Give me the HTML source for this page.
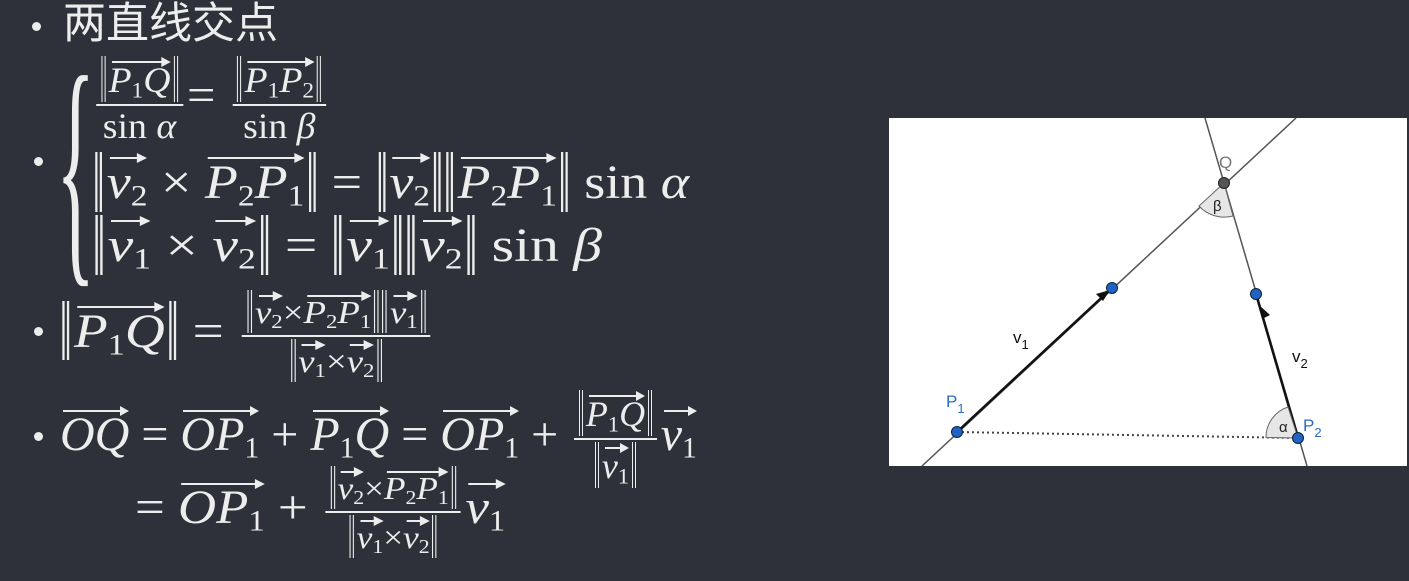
<!DOCTYPE html>
<html><head><meta charset="utf-8">
<style>
html,body{margin:0;padding:0;}
body{width:1409px;height:581px;background:#2e3139;position:relative;overflow:hidden;font-family:"Liberation Serif","Noto Serif CJK SC",serif;color:#ededed;}
.a{position:absolute;white-space:nowrap;line-height:1;transform-origin:left top;}
.bul{position:absolute;width:9px;height:9px;border-radius:50%;background:#ededed;}
.m{font-size:48px;}
.m i{font-style:italic;}
sub{font-size:0.62em;vertical-align:-0.25em;font-style:normal;}
.vec{position:relative;display:inline-block;padding-top:6px;}
.vec::before{content:"";position:absolute;left:3px;right:3px;top:5px;border-top:2px solid #ededed;}
.vec::after{content:"";position:absolute;right:0;top:1px;border-left:9px solid #ededed;border-top:5px solid transparent;border-bottom:5px solid transparent;}
.nm{display:inline-block;border-left:0.13em double #ededed;border-right:0.13em double #ededed;padding:0 0.08em;margin:0 0.05em;line-height:1.05;}
.frac{display:inline-flex;flex-direction:column;align-items:center;vertical-align:middle;margin:0 4px;}
.frac>.n{border-bottom:2px solid #ededed;padding:0 3px 2px;}
.frac>.d{padding-top:2px;}
.s{font-size:36px;}
.xs{font-size:32px;}
</style></head>
<body>
<div class="bul" style="left:32px;top:22px"></div>
<div class="a" style="left:63px;top:3px;font-family:'Liberation Sans','Noto Sans CJK SC',sans-serif;font-size:43px">两直线交点</div>

<div class="bul" style="left:34px;top:157px"></div>
<div class="a" style="left:56px;top:40px;font-size:255px;transform:scaleX(0.32);font-weight:100;">{</div>

<div class="a m" style="left:92px;top:56px;transform:scaleX(1.05)">
<span class="frac s"><span class="n"><span class="nm"><span class="vec"><i>P</i><sub>1</sub><i>Q</i></span></span></span><span class="d">sin <i>α</i></span></span>= <span class="frac s"><span class="n"><span class="nm"><span class="vec"><i>P</i><sub>1</sub><i>P</i><sub>2</sub></span></span></span><span class="d">sin <i>β</i></span></span>
</div>

<div class="a m" style="left:93px;top:152px;transform:scaleX(1.125)"><span class="nm"><span class="vec"><i>v</i><sub>2</sub></span> × <span class="vec"><i>P</i><sub>2</sub><i>P</i><sub>1</sub></span></span> = <span class="nm"><span class="vec"><i>v</i><sub>2</sub></span></span><span class="nm"><span class="vec"><i>P</i><sub>2</sub><i>P</i><sub>1</sub></span></span> sin <i>α</i></div>

<div class="a m" style="left:93px;top:215px;transform:scaleX(1.2)"><span class="nm"><span class="vec"><i>v</i><sub>1</sub></span> × <span class="vec"><i>v</i><sub>2</sub></span></span> = <span class="nm"><span class="vec"><i>v</i><sub>1</sub></span></span><span class="nm"><span class="vec"><i>v</i><sub>2</sub></span></span> sin <i>β</i></div>

<div class="bul" style="left:34px;top:327px"></div>
<div class="a m" style="left:60px;top:290px;transform:scaleX(1.15)"><span class="nm"><span class="vec"><i>P</i><sub>1</sub><i>Q</i></span></span> = <span class="frac xs"><span class="n"><span class="nm"><span class="vec"><i>v</i><sub>2</sub></span>×<span class="vec"><i>P</i><sub>2</sub><i>P</i><sub>1</sub></span></span><span class="nm"><span class="vec"><i>v</i><sub>1</sub></span></span></span><span class="d"><span class="nm"><span class="vec"><i>v</i><sub>1</sub></span>×<span class="vec"><i>v</i><sub>2</sub></span></span></span></span></div>

<div class="bul" style="left:34px;top:432px"></div>
<div class="a m" style="left:60px;top:390px"><span class="vec"><i>OQ</i></span> = <span class="vec"><i>OP</i><sub>1</sub></span> + <span class="vec"><i>P</i><sub>1</sub><i>Q</i></span> = <span class="vec"><i>OP</i><sub>1</sub></span> + <span class="frac s"><span class="n"><span class="nm"><span class="vec"><i>P</i><sub>1</sub><i>Q</i></span></span></span><span class="d"><span class="nm"><span class="vec"><i>v</i><sub>1</sub></span></span></span></span><span class="vec"><i>v</i><sub>1</sub></span></div>

<div class="a m" style="left:135px;top:466px;transform:scaleX(1.1)">= <span class="vec"><i>OP</i><sub>1</sub></span> + <span class="frac xs"><span class="n"><span class="nm"><span class="vec"><i>v</i><sub>2</sub></span>×<span class="vec"><i>P</i><sub>2</sub><i>P</i><sub>1</sub></span></span></span><span class="d"><span class="nm"><span class="vec"><i>v</i><sub>1</sub></span>×<span class="vec"><i>v</i><sub>2</sub></span></span></span></span><span class="vec"><i>v</i><sub>1</sub></span></div>

<svg class="a" style="left:889px;top:118px" width="518" height="348" viewBox="889 118 518 348">
<rect x="889" y="118" width="518" height="348" fill="#ffffff"/>
<line x1="922" y1="466" x2="1296" y2="118" stroke="#555" stroke-width="1.5"/>
<line x1="1205" y1="118" x2="1307" y2="466" stroke="#555" stroke-width="1.5"/>
<line x1="957" y1="432" x2="1112" y2="288" stroke="#111" stroke-width="2.5"/>
<line x1="1298" y1="438" x2="1256" y2="294" stroke="#111" stroke-width="2.5"/>
<polygon points="1110,290 1096,294 1103,301" fill="#111"/>
<polygon points="1259,305 1262,319 1270,315" fill="#111"/>
<line x1="957" y1="432" x2="1298" y2="438" stroke="#444" stroke-width="2" stroke-dasharray="2,3"/>
<path d="M1298,438 L1266,437.5 A32,32 0 0 1 1288,407 Z" fill="#e6e6e6" stroke="#666"/>
<path d="M1224,183 L1199,206 A34,34 0 0 0 1233,216 Z" fill="#e6e6e6" stroke="#666"/>
<circle cx="957" cy="432" r="5.5" fill="#1f63c4" stroke="#123"/>
<circle cx="1298" cy="438" r="5.5" fill="#1f63c4" stroke="#123"/>
<circle cx="1112" cy="288" r="5.5" fill="#1f63c4" stroke="#123"/>
<circle cx="1256" cy="294" r="5.5" fill="#1f63c4" stroke="#123"/>
<circle cx="1224" cy="183" r="5.5" fill="#555" stroke="#222"/>
<g font-family="Liberation Sans, sans-serif" font-size="17">
<text x="1219" y="168" fill="#777">Q</text>
<text x="1213" y="211" fill="#222" font-size="15">β</text>
<text x="1279" y="432" fill="#222" font-size="15">α</text>
<text x="946" y="407" fill="#2b6bc6">P<tspan font-size="13" dy="6">1</tspan></text>
<text x="1303" y="431" fill="#2b6bc6">P<tspan font-size="13" dy="6">2</tspan></text>
<text x="1013" y="343" fill="#111">v<tspan font-size="13" dy="6">1</tspan></text>
<text x="1292" y="362" fill="#111">v<tspan font-size="13" dy="6">2</tspan></text>
</g>
</svg>
</body></html>
